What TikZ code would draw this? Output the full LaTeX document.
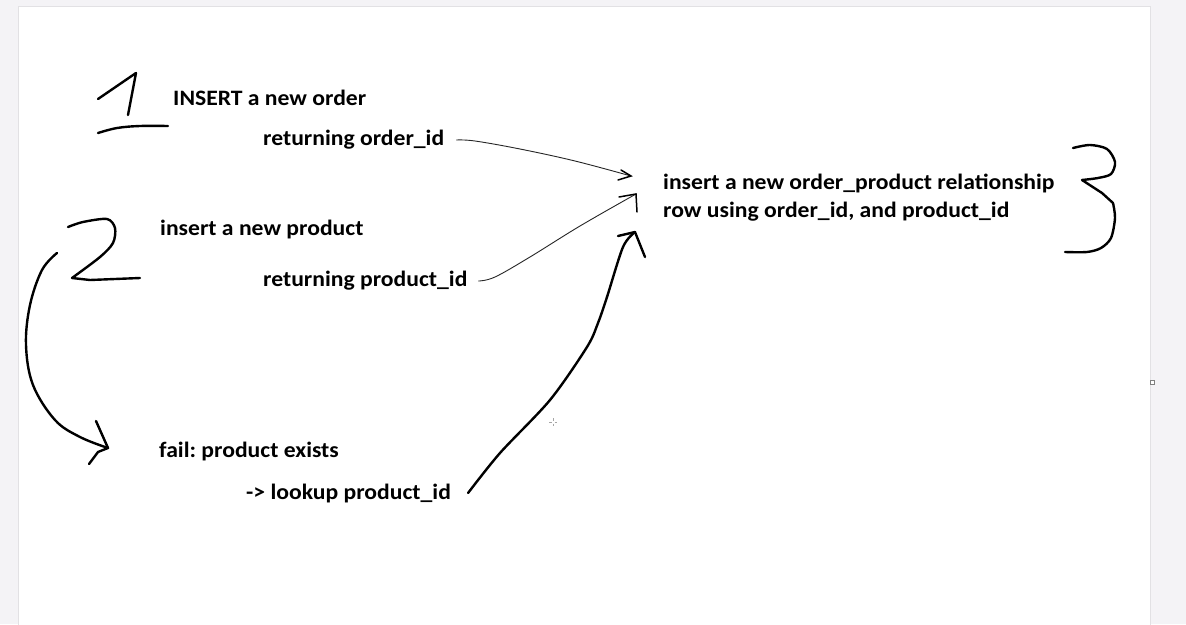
\documentclass[tikz,border=0pt]{standalone}
\usepackage{fontspec}
\setmainfont{Carlito}
\frenchspacing
\newcommand{\wtxt}[1]{\scalebox{1.075}[1]{#1}}
\begin{document}
\begin{tikzpicture}[x=1pt,y=-1pt,
  lbl/.style={anchor=west,inner sep=0pt,font=\bfseries\fontsize{22}{28}\selectfont,text=black},
  pen/.style={line width=2.4pt,line cap=round,line join=round,black},
  thinpen/.style={line width=0.9pt,line cap=round,line join=round,black!85}]
\definecolor{bg}{HTML}{F4F3F6}
\definecolor{edge}{HTML}{E2E1E4}
\useasboundingbox (0,0) rectangle (1186,624);
\fill[bg] (0,0) rectangle (1186,624);
\fill[white] (18,6) rectangle (1150,630);
\draw[edge,line width=1pt] (18,630) -- (18,6) -- (1150,6) -- (1150,630);
% small handle on right edge
\draw[gray,line width=0.6pt,fill=white] (1150.5,380.5) rectangle (1154,384);
% cursor crosshair
\draw[gray!70,line width=0.6pt] (549,422) -- (551.5,422) (554.5,422) -- (557,422) (553,418) -- (553,420.5) (553,423.5) -- (553,426);

% texts
\node[lbl] (ins) at (173,98) {\wtxt{INSERT a new order}};
\node[lbl] (ret1) at (263,140) {\wtxt{returning order\_id}};
\node[lbl] (insp) at (160,230) {\wtxt{insert a new product}};
\node[lbl] (ret2) at (263,281) {\wtxt{returning product\_id}};
\node[lbl] (fail) at (159,452) {\wtxt{fail: product exists}};
\node[lbl] (look) at (246,494) {\wtxt{-> lookup product\_id}};
\node[lbl] (rel) at (663,198) {\wtxt{\begin{tabular}{@{}l@{}}insert a new order\_product relationship\\row using order\_id, and product\_id\end{tabular}}};

% handwritten numerals
\draw[pen] (98,99) -- (136,73) -- (128,115);
\draw[pen] plot[smooth,tension=0.6] coordinates {(98,133) (117,128) (140,126) (168,126)};
\draw[pen] plot[smooth,tension=0.5] coordinates {(68,227) (83,222) (107,219) (115,228) (113,243) (100,257) (72,278)}
  -- (90,280) -- (140,278);
\draw[pen] plot[smooth,tension=0.5] coordinates {(1073,148) (1090,145) (1107,149) (1115,162) (1111,174) (1098,178) (1082,180)}
  -- (1102,193) -- (1113,203) plot[smooth,tension=0.5] coordinates {(1113,203) (1115,218) (1111,238) (1101,248) (1087,252) (1065,252)};

% curved arrow from 2 to fail
\coordinate (twoStart) at (57,253);
\coordinate (failTip) at (108,448);
\draw[pen] plot[smooth,tension=0.6] coordinates {(twoStart) (42,270) (30,305) (26,345) (33,385) (55,420) (80,437) (failTip)};
\draw[pen] (96,421) -- (failTip) -- (98,452) -- (89,464);

% thin arrow: returning order_id -> relationship
\coordinate (t1) at (631,176);
\draw[thinpen] (ret1.east) ++(12,0) coordinate (s1) plot[smooth,tension=0.6] coordinates {(s1) (475,141) (520,149) (575,161) (t1)};
\draw[line width=1.5pt,line cap=round,black] (621,170) -- (t1) -- (618,180);

% thin arrow: returning product_id -> relationship
\coordinate (t2) at (636,194);
\draw[thinpen] (ret2.east) ++(11,0) coordinate (s2) plot[smooth,tension=0.6] coordinates {(s2) (495,277) (530,257) (580,226) (t2)};
\draw[line width=1.5pt,line cap=round,black] (619,197) -- (t2) -- (637,212);

% thick arrow: lookup -> relationship
\coordinate (t3) at (635,232);
\draw[pen] (look.east) ++(17,-1) coordinate (s3) plot[smooth,tension=0.5] coordinates {(s3) (500,453) (550,400) (587,347) (598,323) (607,297) (623,247) (t3)};
\draw[pen] (618,236) -- (t3) -- (645,257);
\end{tikzpicture}
\end{document}
